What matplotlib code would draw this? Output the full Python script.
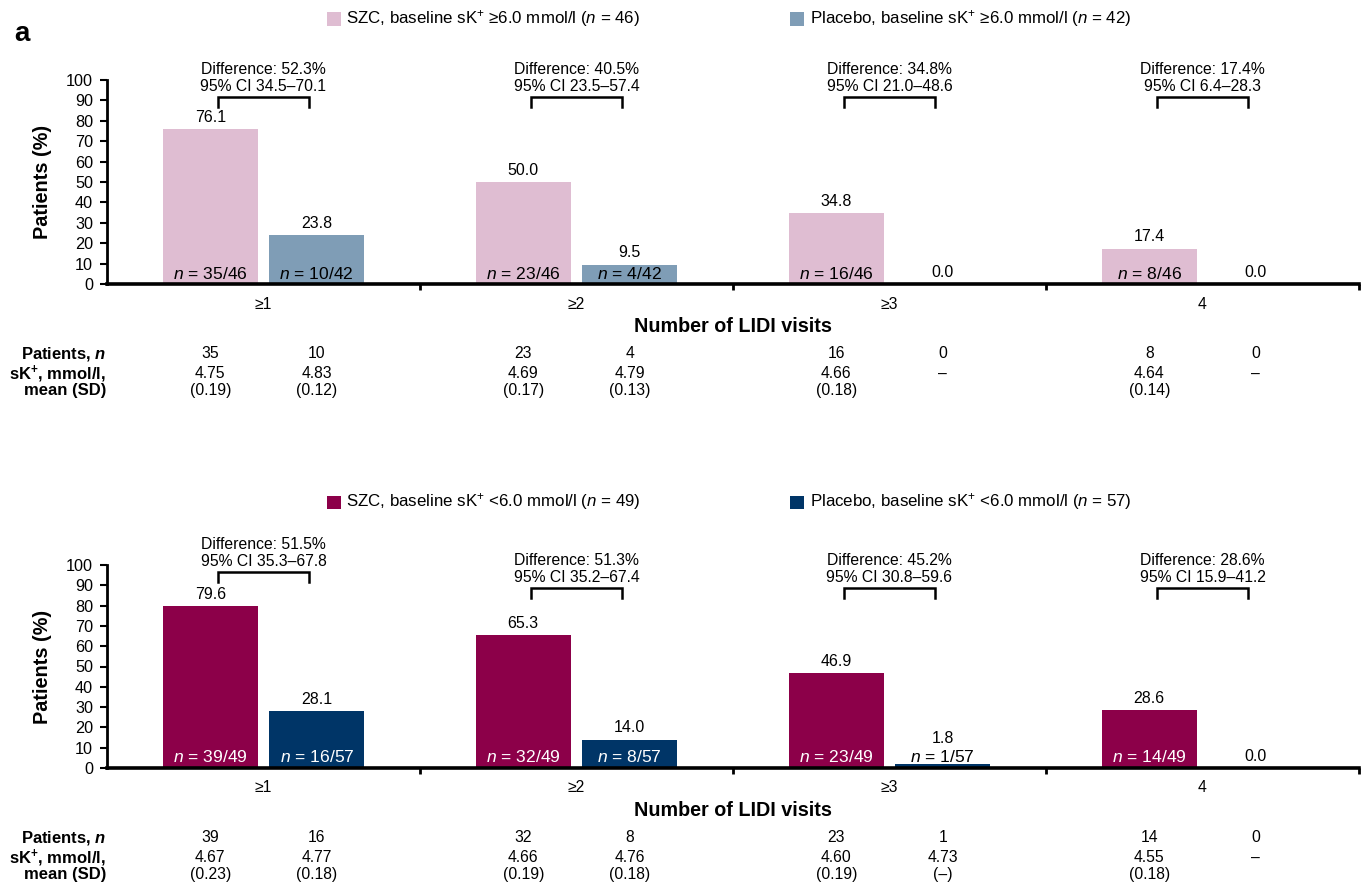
import matplotlib
matplotlib.use("Agg")
import matplotlib.pyplot as plt
import matplotlib.transforms as mtransforms
from matplotlib.patches import Rectangle

plt.rcParams['font.family'] = ['Liberation Sans', 'DejaVu Sans']
plt.rcParams['mathtext.fontset'] = 'custom'
plt.rcParams['mathtext.rm'] = 'Liberation Sans'
plt.rcParams['mathtext.it'] = 'Liberation Sans:italic'
plt.rcParams['mathtext.bf'] = 'Liberation Sans:bold'
plt.rcParams['mathtext.bfit'] = 'Liberation Sans:bold:italic'

# ---------------- data ----------------
categories = ['≥1', '≥2', '≥3', '4']

# baseline sK+ >= 6.0 mmol/l
hi_szc_pct = [76.1, 50.0, 34.8, 17.4]
hi_pbo_pct = [23.8, 9.5, 0.0, 0.0]
hi_szc_n = [35, 23, 16, 8]
hi_pbo_n = [10, 4, 0, 0]
hi_szc_total = 46
hi_pbo_total = 42
hi_szc_mean = ['4.75', '4.69', '4.66', '4.64']
hi_szc_sd = ['(0.19)', '(0.17)', '(0.18)', '(0.14)']
hi_pbo_mean = ['4.83', '4.79', '–', '–']
hi_pbo_sd = ['(0.12)', '(0.13)', '', '']
hi_diff = ['52.3', '40.5', '34.8', '17.4']
hi_ci = ['34.5–70.1', '23.5–57.4', '21.0–48.6', '6.4–28.3']

# baseline sK+ < 6.0 mmol/l
lo_szc_pct = [79.6, 65.3, 46.9, 28.6]
lo_pbo_pct = [28.1, 14.0, 1.8, 0.0]
lo_szc_n = [39, 32, 23, 14]
lo_pbo_n = [16, 8, 1, 0]
lo_szc_total = 49
lo_pbo_total = 57
lo_szc_mean = ['4.67', '4.66', '4.60', '4.55']
lo_szc_sd = ['(0.23)', '(0.19)', '(0.19)', '(0.18)']
lo_pbo_mean = ['4.77', '4.76', '4.73', '–']
lo_pbo_sd = ['(0.18)', '(0.18)', '(–)', '']
lo_diff = ['51.5', '51.3', '45.2', '28.6']
lo_ci = ['35.3–67.8', '35.2–67.4', '30.8–59.6', '15.9–41.2']

# ---------------- layout ----------------
W, H = 1361, 890
fig = plt.figure(figsize=(W / 100, H / 100), dpi=100)

AX_LEFT, AX_RIGHT = 107, 1359
FS = 11.3        # annotation / table text
FS_N = 12.6      # counts inside bars
FS_VAL = 11.5    # bar value labels


def fx(px):
    return px / W


def fy(py):
    return 1 - py / H


def draw_panel(y100, y0, szc_pct, pbo_pct, szc_n, pbo_n, szc_tot, pbo_tot,
               szc_mean, szc_sd, pbo_mean, pbo_sd, diff, ci,
               c_szc, c_pbo, inbar_color, bracket_y, legend_y, legend_labels):
    ax = fig.add_axes([fx(AX_LEFT), fy(y0), fx(AX_RIGHT - AX_LEFT),
                       (y0 - y100) / H])
    x = list(range(len(categories)))
    off, bw = 0.17, 0.304
    xs = [i - off for i in x]
    xp = [i + off for i in x]
    ax.bar(xs, szc_pct, width=bw, color=c_szc, linewidth=0, zorder=2)
    ax.bar(xp, pbo_pct, width=bw, color=c_pbo, linewidth=0, zorder=2)
    ax.set_xlim(-0.5, len(categories) - 0.5)
    ax.set_ylim(0, 100)
    ax.set_yticks(range(0, 101, 10))
    ax.tick_params(axis='y', direction='out', length=5, width=1.5,
                   labelsize=11.7, pad=5)
    ax.set_xticks(x)
    ax.set_xticklabels(categories)
    ax.tick_params(axis='x', which='major', length=0, labelsize=FS, pad=9)
    ax.set_xticks([i + 0.5 for i in x], minor=True)
    ax.tick_params(axis='x', which='minor', direction='out', length=4,
                   width=2)
    for s in ('top', 'right'):
        ax.spines[s].set_visible(False)
    ax.spines['left'].set_linewidth(2)
    ax.spines['bottom'].set_linewidth(2.6)
    ax.set_ylabel('Patients (%)', fontsize=14.3, fontweight='bold')
    ax.yaxis.set_label_coords(-55 / (AX_RIGHT - AX_LEFT), 0.5)

    # value labels and counts inside bars
    for xi, v, n, tot in zip(xs + xp, szc_pct + pbo_pct, szc_n + pbo_n,
                             [szc_tot] * 4 + [pbo_tot] * 4):
        small = 0 < v < 6
        if n > 0:
            ax.annotate(f'$\\mathit{{n}}$ = {n}/{tot}', (xi, 0),
                        xytext=(0, 1.8), textcoords='offset points',
                        ha='center', va='bottom', fontsize=FS_N,
                        color='black' if small else inbar_color, zorder=3)
        ax.annotate(f'{v:.1f}', (xi, v),
                    xytext=(0, 13 if small else 3),
                    textcoords='offset points', ha='center', va='bottom',
                    fontsize=FS_VAL, zorder=3)

    # difference brackets
    hw = 0.144
    drop = 10 / (y0 - y100) * 100
    for i, (d, c, by) in enumerate(zip(diff, ci, bracket_y)):
        ax.plot([i - hw, i - hw, i + hw, i + hw], [by - drop, by, by, by - drop],
                color='black', lw=1.8, clip_on=False, solid_joinstyle='miter')
        ax.annotate(f'Difference: {d}%\n95% CI {c}', (i, by),
                    xytext=(0, 2), textcoords='offset points',
                    ha='center', va='bottom', fontsize=FS, linespacing=1.22,
                    annotation_clip=False)

    # axis title and table below the plot
    tr = mtransforms.blended_transform_factory(ax.transData, fig.transFigure)
    fig.text(fx((AX_LEFT + AX_RIGHT) / 2), fy(y0 + 43), 'Number of LIDI visits',
             ha='center', va='center', fontsize=14.2, fontweight='bold')
    rows = [(y0 + 70, r'Patients, $\mathbfit{n}$'),
            (y0 + 90, r'sK$^{\mathbf{+}}$, mmol/l,'),
            (y0 + 107, 'mean (SD)')]
    for py, lab in rows:
        fig.text(fx(AX_LEFT - 1), fy(py), lab, ha='right', va='center',
                 fontsize=12, fontweight='bold')
    for xi, n, m, s in zip(xs + xp, szc_n + pbo_n, szc_mean + pbo_mean,
                           szc_sd + pbo_sd):
        ax.text(xi, fy(y0 + 70), str(n), transform=tr, ha='center',
                va='center', fontsize=FS)
        ax.text(xi, fy(y0 + 90), m, transform=tr, ha='center',
                va='center', fontsize=FS)
        if s:
            ax.text(xi, fy(y0 + 107), s, transform=tr, ha='center',
                    va='center', fontsize=FS)

    # legend
    for (sx, tx), col, lab in zip([(327, 346), (790, 810)], [c_szc, c_pbo],
                                  legend_labels):
        fig.patches.append(Rectangle((fx(sx), fy(legend_y + 7)), fx(13.5),
                                     13.5 / H, transform=fig.transFigure,
                                     color=col, linewidth=0))
        fig.text(fx(tx), fy(legend_y), lab, ha='left', va='center',
                 fontsize=12.2)
    return ax


draw_panel(80, 284, hi_szc_pct, hi_pbo_pct, hi_szc_n, hi_pbo_n,
           hi_szc_total, hi_pbo_total, hi_szc_mean, hi_szc_sd,
           hi_pbo_mean, hi_pbo_sd, hi_diff, hi_ci,
           '#dfbdd2', '#7f9db6', 'black', [91.7, 91.7, 91.7, 91.7], 19,
           [r'SZC, baseline sK$^{+}$ ≥6.0 mmol/l ($\mathit{n}$ = 46)',
            r'Placebo, baseline sK$^{+}$ ≥6.0 mmol/l ($\mathit{n}$ = 42)'])

draw_panel(565, 768, lo_szc_pct, lo_pbo_pct, lo_szc_n, lo_pbo_n,
           lo_szc_total, lo_pbo_total, lo_szc_mean, lo_szc_sd,
           lo_pbo_mean, lo_pbo_sd, lo_diff, lo_ci,
           '#8c0049', '#003567', 'white', [96.5, 88.7, 88.7, 88.7], 502,
           [r'SZC, baseline sK$^{+}$ <6.0 mmol/l ($\mathit{n}$ = 49)',
            r'Placebo, baseline sK$^{+}$ <6.0 mmol/l ($\mathit{n}$ = 57)'])

fig.text(fx(14), fy(34), 'a', ha='left', va='center', fontsize=20,
         fontweight='bold')

fig.savefig('out.png', dpi=100)
